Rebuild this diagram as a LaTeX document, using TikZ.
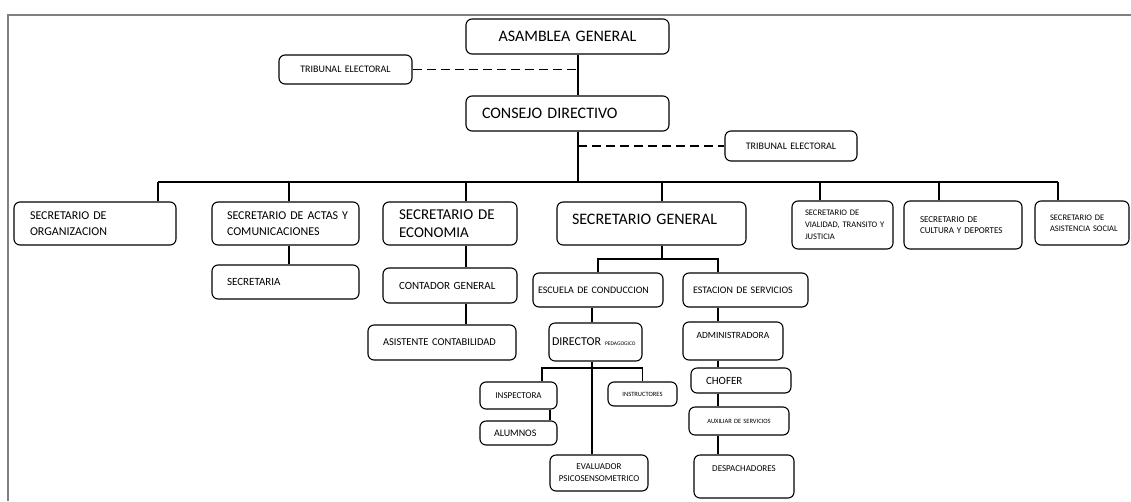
\documentclass[tikz,border=0pt]{standalone}
\usepackage{fontspec}
\setmainfont{Carlito}
\usepackage{tikz}
\usetikzlibrary{calc}
\tikzset{
    box/.style={
        draw,
        rounded corners=6pt,
        line width=1.1pt,
        inner ysep=0pt,
        align=left
    },
    link/.style={
        line width=1.1pt
    },
    tielink/.style={
        line width=1.6pt,
        dash pattern=on 9pt off 5pt
    }
}

\begin{document}
\begin{tikzpicture}[x=1pt, y=-1pt]
    \useasboundingbox (0,0) rectangle (1131,501);
    \draw[gray, line width=2pt] (8,501) -- (8,15) -- (1131,15);

    % top of the chart
    \node[box, align=center, text width=171pt, inner xsep=16pt, minimum height=35pt, font=\fontsize{16}{19}\selectfont] (asamblea) at (567.5,36.5) {ASAMBLEA GENERAL};
    \node[box, text width=171pt, inner xsep=16pt, minimum height=35pt, font=\fontsize{16}{19}\selectfont] (consejo) at (567.5,113.5) {CONSEJO DIRECTIVO};
    \node[box, align=center, text width=117pt, inner xsep=8pt, minimum height=29pt, font=\fontsize{10}{12}\selectfont] (tribA) at (345.5,69.5) {TRIBUNAL ELECTORAL};
    \node[box, align=center, text width=116pt, inner xsep=8pt, minimum height=30pt, font=\fontsize{10}{12}\selectfont] (tribB) at (791,146) {TRIBUNAL ELECTORAL};
    \coordinate (spine) at (578,182);

    % secretarios
    \node[box, text width=130pt, inner xsep=16pt, minimum height=43pt, font=\fontsize{12}{16}\selectfont] (org) at (95,223.5) {SECRETARIO DE\\ORGANIZACION};
    \node[box, text width=117pt, inner xsep=15pt, minimum height=43pt, font=\fontsize{12}{16}\selectfont] (actas) at (285.5,223.5) {\mbox{SECRETARIO DE ACTAS Y}\\COMUNICACIONES};
    \node[box, text width=102pt, inner xsep=16pt, minimum height=43pt, font=\fontsize{15}{18}\selectfont] (econ) at (450,223.5) {SECRETARIO DE\\ECONOMIA};
    \node[box, text width=159pt, inner xsep=15pt, minimum height=43pt, text depth=9pt, font=\fontsize{16}{19}\selectfont] (sgen) at (651.5,223.5) {SECRETARIO GENERAL};
    \node[box, text width=75pt, inner xsep=13pt, minimum height=48pt, font=\fontsize{8.5}{12}\selectfont] (vial) at (842.5,225) {SECRETARIO DE\\\mbox{VIALIDAD, TRANSITO Y}\\JUSTICIA};
    \node[box, text width=86pt, inner xsep=16pt, minimum height=48pt, font=\fontsize{9}{11}\selectfont] (cult) at (963,225) {SECRETARIO DE\\\mbox{CULTURA Y DEPORTES}};
    \node[box, text width=64pt, inner xsep=15pt, minimum height=44pt, font=\fontsize{8.5}{11}\selectfont] (asis) at (1082,223) {SECRETARIO DE\\\mbox{ASISTENCIA SOCIAL}};

    % under the secretarios
    \node[box, text width=117pt, inner xsep=15pt, minimum height=34pt, font=\fontsize{11}{13}\selectfont] (secretaria) at (285.5,282) {SECRETARIA};
    \node[box, text width=102pt, inner xsep=16pt, minimum height=35pt, font=\fontsize{11}{13}\selectfont] (contador) at (450,285.5) {CONTADOR GENERAL};
    \node[box, text width=118pt, inner xsep=15pt, minimum height=35pt, font=\fontsize{10.5}{13}\selectfont] (asistente) at (442,342.5) {\mbox{ASISTENTE CONTABILIDAD}};
    \node[box, text width=120pt, inner xsep=5pt, minimum height=34pt, font=\fontsize{10}{12}\selectfont] (escuela) at (598,290) {ESCUELA DE CONDUCCION};
    \node[box, text width=105pt, inner xsep=10pt, minimum height=34pt, font=\fontsize{10}{12}\selectfont] (estacion) at (745.5,290) {ESTACION DE SERVICIOS};
    \node[box, text width=87pt, inner xsep=3pt, minimum height=38pt, font=\fontsize{12}{14}\selectfont] (director) at (595.5,342) {DIRECTOR {\fontsize{5.5}{7}\selectfont PEDAGOGICO}};
    \node[box, align=center, text width=90pt, inner xsep=5pt, minimum height=38pt, text depth=12pt, font=\fontsize{9.5}{12}\selectfont] (admin) at (733,341) {ADMINISTRADORA};
    \node[box, align=center, text width=69pt, inner xsep=4pt, minimum height=27pt, font=\fontsize{9}{11}\selectfont] (inspectora) at (518.5,395.5) {INSPECTORA};
    \node[box, text width=49pt, inner xsep=14pt, minimum height=24pt, font=\fontsize{10}{12}\selectfont] (alumnos) at (518.5,433) {ALUMNOS};
    \node[box, align=center, text width=63pt, inner xsep=3pt, minimum height=24pt, font=\fontsize{6.5}{8}\selectfont] (instructores) at (642.5,394) {INSTRUCTORES};
    \node[box, align=center, text width=90pt, inner xsep=4pt, minimum height=36pt, font=\fontsize{9}{12}\selectfont] (evaluador) at (599,473) {EVALUADOR\\PSICOSENSOMETRICO};
    \node[box, text width=70pt, inner xsep=15pt, minimum height=25pt, font=\fontsize{11}{13}\selectfont] (chofer) at (741,380.5) {CHOFER};
    \node[box, align=center, text width=94pt, inner xsep=3pt, minimum height=28pt, font=\fontsize{6.5}{8}\selectfont] (auxiliar) at (739,421) {AUXILIAR DE SERVICIOS};
    \node[box, align=center, text width=92pt, inner xsep=4pt, minimum height=43pt, text depth=15pt, font=\fontsize{9}{11}\selectfont] (despacho) at (744,476.5) {DESPACHADORES};

    \draw[link] ([xshift=10.5pt]asamblea.south) -- ([xshift=10.5pt]consejo.north);
    \draw[link] ([xshift=10.5pt]consejo.south) -- (spine);
    \draw[tielink] (tribA.east) -- (tribA.east -| spine);
    \draw[tielink] (tribB.west -| spine) -- (tribB.west);

    \draw[link] ([xshift=63pt]org.north |- spine) -- ([xshift=-24pt]asis.north |- spine);
    \draw[link] ([xshift=63pt]org.north) -- ([xshift=63pt]org.north |- spine);
    \draw[link] ([xshift=3.5pt]actas.north) -- ([xshift=3.5pt]actas.north |- spine);
    \draw[link] ([xshift=16pt]econ.north) -- ([xshift=16pt]econ.north |- spine);
    \draw[link] ([xshift=10.5pt]sgen.north) -- ([xshift=10.5pt]sgen.north |- spine);
    \draw[link] ([xshift=-22.5pt]vial.north) -- ([xshift=-22.5pt]vial.north |- spine);
    \draw[link] ([xshift=-24pt]cult.north) -- ([xshift=-24pt]cult.north |- spine);
    \draw[link] ([xshift=-24pt]asis.north) -- ([xshift=-24pt]asis.north |- spine);

    \draw[link] ([xshift=3.5pt]actas.south) -- ([xshift=3.5pt]secretaria.north);
    \draw[link] ([xshift=16pt]econ.south) -- ([xshift=16pt]contador.north);
    \draw[link] ([xshift=16pt]contador.south) -- ([xshift=16pt]contador.south |- asistente.north);

    % secretario general
    \coordinate (forkA) at (662,259);
    \coordinate (forkB) at (592,368);
    \draw[link] ([xshift=10.5pt]sgen.south) -- (forkA);
    \draw[link] (escuela.north) |- (forkA);
    \draw[link] ([xshift=-27.5pt]estacion.north) |- (forkA);
    \draw[link] ([xshift=-6pt]escuela.south) -- ([xshift=-6pt]escuela.south |- director.north);
    \draw[link] ([xshift=-3.5pt]director.south) -- ([xshift=-3.5pt]director.south |- evaluador.north);
    \draw[link] ([xshift=23.5pt]inspectora.north) |- (forkB);
    \draw[link] (instructores.north) |- (forkB);
    \draw[link] ([xshift=31.5pt]inspectora.south) -- ([xshift=31.5pt]alumnos.north);
    \draw[link] ([xshift=-27.5pt]estacion.south) -- ([xshift=-27.5pt]estacion.south |- admin.north);
    \draw[link] ([xshift=-15pt]admin.south) -- ([xshift=-15pt]admin.south |- chofer.north);
    \draw[link] ([xshift=-23pt]chofer.south) -- ([xshift=-23pt]chofer.south |- auxiliar.north);
    \draw[link] ([xshift=-21pt]auxiliar.south) -- ([xshift=-21pt]auxiliar.south |- despacho.north);
\end{tikzpicture}
\end{document}
